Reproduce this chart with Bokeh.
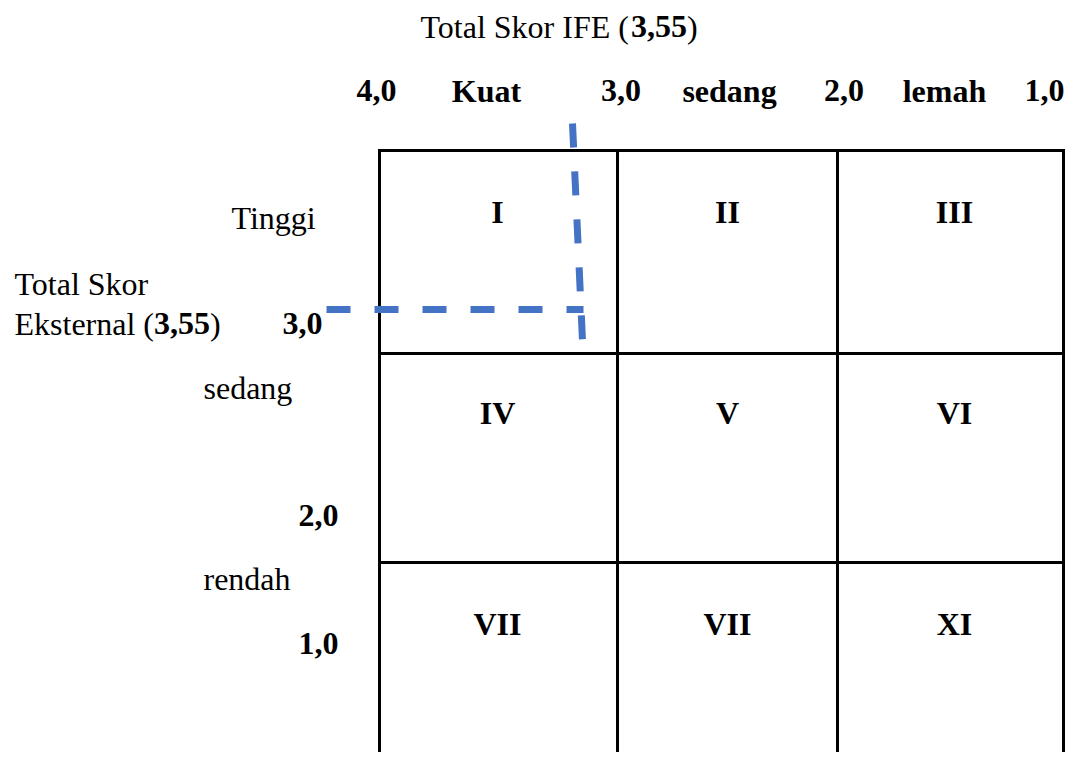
from bokeh.plotting import figure
from bokeh.models import Range1d
from bokeh.core.properties import value
from bokeh.embed import file_html
from bokeh.resources import INLINE

# ---------------- data ----------------
ife_title = ["Total Skor IFE (", "3,55", ")"]
efe_title_line1 = "Total Skor"
efe_title_line2 = ["Eksternal (", "3,55", ")"]
ife_scale_labels = ["4,0", "Kuat", "3,0", "sedang", "2,0", "lemah", "1,0"]
efe_category_labels = ["Tinggi", "sedang", "rendah"]
efe_scale_labels = ["3,0", "2,0", "1,0"]
cell_labels = ["I", "II", "III", "IV", "V", "VI", "VII", "VII", "XI"]
ife_score = 3.55
efe_score = 3.55

# ---------------- layout (picture-pixel coordinates) ----------------
FONT = "Liberation Serif"
FS = "32px"
col_edges = [379, 617, 837, 1063]
row_edges = [150, 353, 562, 800]
ife_title_x = [420, 630.5, 686.5]
ife_title_y = 26
ife_scale_x = [376, 486, 620.5, 729, 843.5, 944, 1044]
ife_scale_y = 90
efe_cat_x = [231, 203, 203]
efe_cat_y = [217, 387, 578]
efe_scale_right = [322, 338, 338]
efe_scale_y = [323, 515, 643]
efe_title_x = [14, 153.5, 209.5]
efe_title_y = [283, 323]
cell_cx = [497, 727, 954]
cell_base = [211, 412, 623]
# dashed marker for the position (3,55 ; 3,55)
marker_v = ((572, 123), (582, 340))
marker_h = ((326, 309), (583, 309))

W, H = 1065, 752
p = figure(width=W, height=H, output_backend="svg", toolbar_location=None,
           x_range=Range1d(0, W), y_range=Range1d(H, 0),
           min_border=0, outline_line_color=None)
p.xaxis.visible = False
p.yaxis.visible = False
p.grid.visible = False
p.background_fill_color = "white"
p.border_fill_color = "white"

# grid
p.segment(x0=col_edges, y0=[row_edges[0] - 1.5] * len(col_edges),
          x1=col_edges, y1=[row_edges[-1]] * len(col_edges),
          line_color="black", line_width=3)
p.segment(x0=[col_edges[0] - 1.5] * 3, y0=row_edges[:3],
          x1=[col_edges[-1] + 1.5] * 3, y1=row_edges[:3],
          line_color="black", line_width=3)

# cell labels
cx = [cell_cx[i % 3] for i in range(9)]
cy = [cell_base[i // 3] for i in range(9)]
p.text(x=cx, y=cy, text=cell_labels, text_font=value(FONT), text_font_size=FS,
       text_font_style="bold", text_align="center", text_baseline="alphabetic",
       text_color="black")

# IFE title (mixed weight)
styles = ["normal", "bold", "normal"]
for part, x, st in zip(ife_title, ife_title_x, styles):
    p.text(x=[x], y=[ife_title_y], text=[part], text_font=value(FONT), text_font_size=FS,
           text_font_style=st, text_align="left", text_baseline="alphabetic", text_color="black")

# IFE scale row
p.text(x=ife_scale_x, y=[ife_scale_y] * len(ife_scale_labels), text=ife_scale_labels,
       text_font=value(FONT), text_font_size=FS, text_font_style="bold",
       text_align="center", text_baseline="alphabetic", text_color="black")

# EFE category labels
p.text(x=efe_cat_x, y=efe_cat_y, text=efe_category_labels, text_font=value(FONT),
       text_font_size=FS, text_align="left", text_baseline="alphabetic", text_color="black")

# EFE scale labels
p.text(x=efe_scale_right, y=efe_scale_y, text=efe_scale_labels, text_font=value(FONT),
       text_font_size=FS, text_font_style="bold", text_align="right",
       text_baseline="alphabetic", text_color="black")

# EFE title
p.text(x=[efe_title_x[0]], y=[efe_title_y[0]], text=[efe_title_line1], text_font=value(FONT),
       text_font_size=FS, text_align="left", text_baseline="alphabetic", text_color="black")
for part, x, st in zip(efe_title_line2, efe_title_x, styles):
    p.text(x=[x], y=[efe_title_y[1]], text=[part], text_font=value(FONT), text_font_size=FS,
           text_font_style=st, text_align="left", text_baseline="alphabetic", text_color="black")

# dashed position lines
p.segment(x0=[marker_v[0][0], marker_h[0][0]], y0=[marker_v[0][1], marker_h[0][1]],
          x1=[marker_v[1][0], marker_h[1][0]], y1=[marker_v[1][1], marker_h[1][1]],
          line_color="#4472C4", line_width=7, line_dash="24 24", line_cap="butt")

open("out.html", "w").write(file_html(p, INLINE))
